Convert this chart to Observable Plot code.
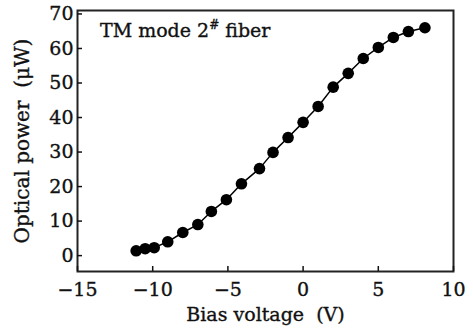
<!DOCTYPE html>
<html>
<head>
<meta charset="utf-8">
<script src="https://cdn.jsdelivr.net/npm/d3@7"></script>
<script src="https://cdn.jsdelivr.net/npm/@observablehq/plot@0.6"></script>
<style>
  html, body { margin: 0; padding: 0; background: #fff; }
  svg { font-family: "DejaVu Serif", "Liberation Serif", serif; }
  svg text { stroke: #111; stroke-width: 0.35px; }
</style>
</head>
<body>
<div id="chart"></div>
<script>
const biasVoltage = [-11.1, -10.5, -9.9, -9.0, -8.0, -7.0, -6.1, -5.1, -4.1, -2.9, -2.0, -1.0, 0.0, 1.0, 2.0, 3.0, 4.0, 5.0, 6.0, 7.0, 8.1];
const opticalPower = [1.4, 2.0, 2.3, 4.0, 6.7, 9.0, 12.8, 16.2, 20.8, 25.2, 29.9, 34.2, 38.6, 43.2, 48.8, 52.8, 57.1, 60.3, 63.2, 64.9, 66.0];
const xTicks = [-15, -10, -5, 0, 5, 10];
const yTicks = [0, 10, 20, 30, 40, 50, 60, 70];
const titleText = ["TM mode 2", "#", " fiber"];
const xLabel = "Bias voltage  (V)";
const yLabel = "Optical power  (μW)";

const data = biasVoltage.map((x, i) => ({x, y: opticalPower[i]}));
const fmt = d => d < 0 ? "\u2212" + Math.abs(d) : String(d);
const FONT = "DejaVu Serif, Liberation Serif, serif";

const chart = Plot.plot({
  width: 473,
  height: 329,
  marginLeft: 77,
  marginRight: 20,
  marginTop: 10,
  marginBottom: 58,
  style: {fontFamily: FONT, fontSize: "19px", color: "#111", background: "#fff"},
  x: {domain: [-15, 10]},
  y: {domain: [-4.6, 71]},
  marks: [
    Plot.frame({stroke: "#222", strokeWidth: 2}),
    Plot.axisX({ticks: xTicks, tickFormat: fmt, tickSize: -5, tickPadding: 16, strokeWidth: 1.5, fontSize: 19, label: null}),
    Plot.axisY({ticks: yTicks, tickFormat: fmt, tickSize: -5, tickPadding: 9, strokeWidth: 1.5, fontSize: 19, label: null}),
    Plot.text([xLabel], {frameAnchor: "bottom", dy: 49, text: d => d, fontSize: 19, textAnchor: "middle"}),
    Plot.text([yLabel], {frameAnchor: "left", dx: -55, rotate: -90, text: d => d, fontSize: 20, textAnchor: "middle"}),
    Plot.line(data, {x: "x", y: "y", stroke: "#000", strokeWidth: 1.5}),
    Plot.dot(data, {x: "x", y: "y", r: 5.8, fill: "#000", stroke: "none"})
  ]
});

// title inside the frame, with superscript
const svg = d3.select(chart);
const t = svg.append("text")
  .attr("x", 100).attr("y", 37)
  .attr("text-anchor", "start")
  .attr("font-size", 19).attr("fill", "#111")
  .attr("font-family", FONT);
t.append("tspan").text(titleText[0]);
t.append("tspan").attr("dy", -8).attr("font-size", 12).text(titleText[1]);
t.append("tspan").attr("dy", 8).text(titleText[2]);

document.getElementById("chart").appendChild(chart);
</script>
</body>
</html>
